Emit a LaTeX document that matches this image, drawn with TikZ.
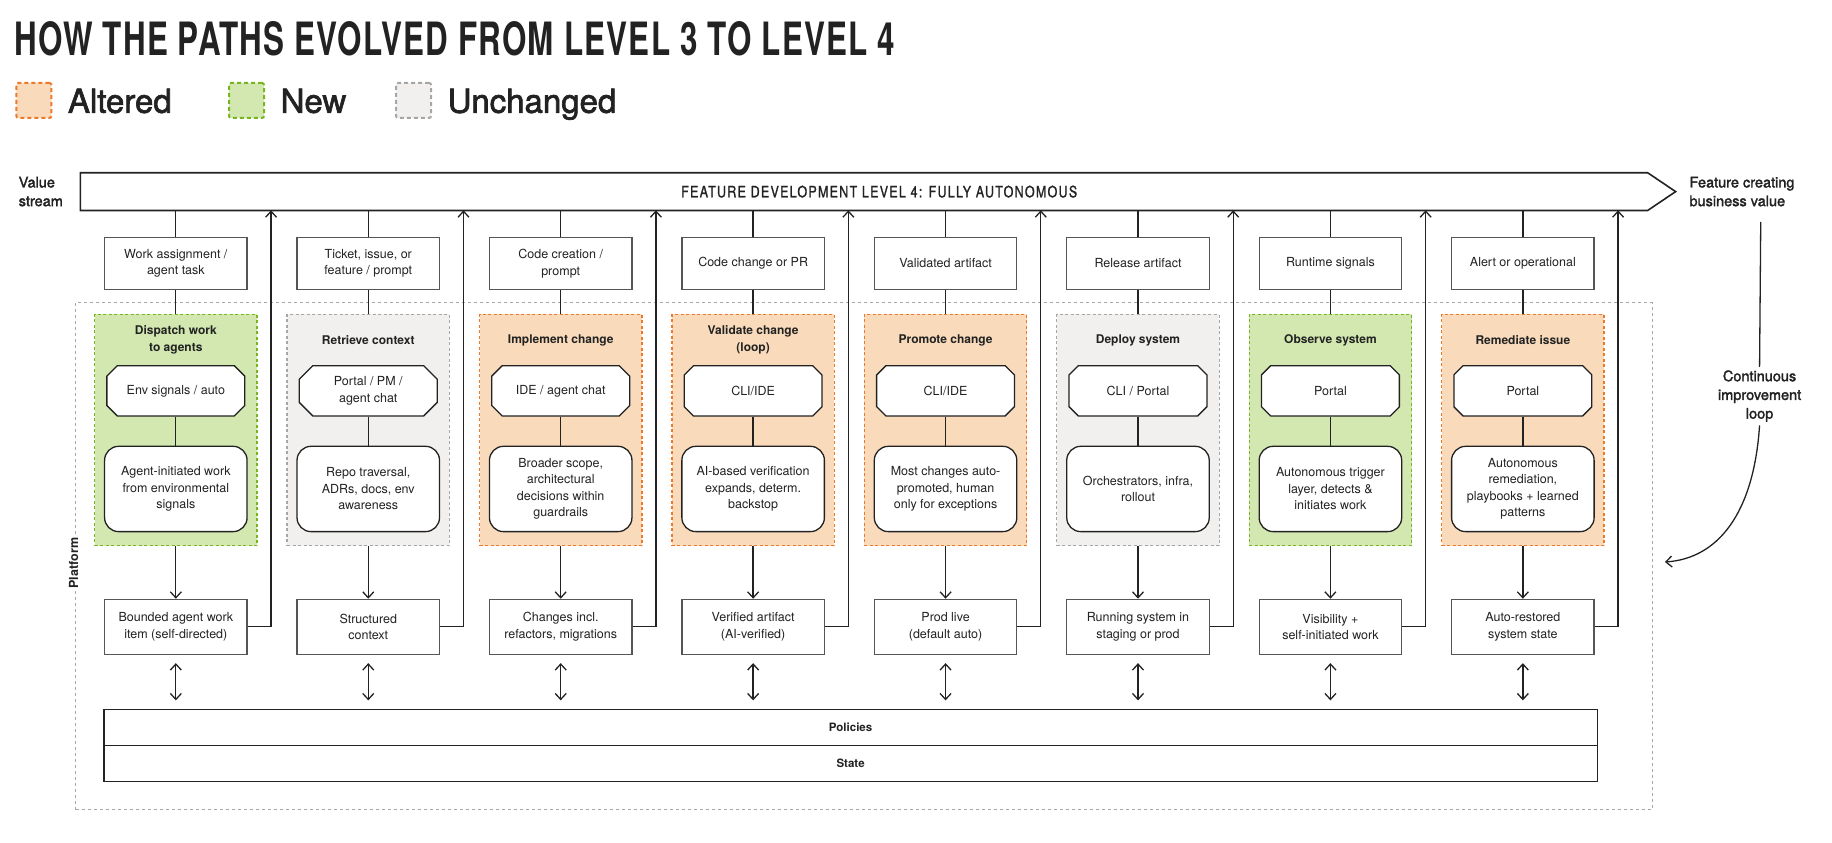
\documentclass[tikz,border=0pt]{standalone}
\usepackage{fontspec}
\setmainfont{TeX Gyre Heros}
\newfontfamily\medfont[FakeBold=2]{TeX Gyre Heros}
\newfontfamily\vsfont[FakeBold=1.5, LetterSpace=10]{TeX Gyre Heros}
\newfontfamily\titlefont[LetterSpace=4]{TeX Gyre Heros}
\usetikzlibrary{arrows.meta,shapes.misc,calc}
\definecolor{ink}{HTML}{222222}
\definecolor{boxgray}{HTML}{555555}
\definecolor{altfill}{HTML}{F9DBBB}
\definecolor{altdraw}{HTML}{EC7A2A}
\definecolor{newfill}{HTML}{D3E8B0}
\definecolor{newdraw}{HTML}{79B425}
\definecolor{samefill}{HTML}{F1F0EE}
\definecolor{samedraw}{HTML}{A6A6A6}
\definecolor{platdraw}{HTML}{A8A8A8}
\newcommand{\boxfont}{\fontsize{12.5}{16.5}\selectfont}
\newcommand{\mkcol}[8]{%
  \pgfmathsetmacro{\rx}{#2+81.5}
  \node[tbox] (tb#1) at (#2,225.5) {#4};
  \node[#3] (pn#1) at (#2,368) {};
  \node[ptitle] (pt#1) at (#2,291) {#5};
  \node[octbox] (oc#1) at (#2,334.5) {#6};
  \node[rbox] (rb#1) at (#2,418.5) {#7};
  \node[bbox] (bb#1) at (#2,536.5) {#8};
  \coordinate (rt#1) at (\rx,180);
  \draw[conn] (tb#1.north |- vs.south) -- (tb#1.north);
  \draw[conn] (tb#1.south) -- (pn#1.north);
  \draw[conn] (oc#1.south) -- (rb#1.north);
  \draw[arr] (pn#1.south) -- (bb#1.north);
  \draw[darr] ($(bb#1.south)+(0,7)$) -- ($(bb#1.south |- pol.north)+(0,-7)$);
  \draw[arr] (bb#1.east) -| (rt#1);
}
\begin{document}
\begin{tikzpicture}[x=1.1684pt,y=-1.1684pt,
  every node/.style={text=ink},
  tbox/.style={draw=boxgray, line width=1.3pt, fill=white, minimum width=142.5pt, minimum height=52.6pt, align=center, font=\boxfont, inner sep=2pt},
  bbox/.style={tbox, minimum height=54.9pt},
  panelbase/.style={minimum width=162.4pt, minimum height=231.3pt, line width=1.2pt, dash pattern=on 3pt off 2.5pt},
  altp/.style={panelbase, fill=altfill, draw=altdraw},
  newp/.style={panelbase, fill=newfill, draw=newdraw},
  samep/.style={panelbase, fill=samefill, draw=samedraw},
  ptitle/.style={font=\bfseries\fontsize{12}{16.4}\selectfont, align=center},
  octbox/.style={chamfered rectangle, chamfered rectangle xsep=10pt, draw=ink, line width=1.3pt, fill=white, minimum width=137.9pt, minimum height=50.2pt, align=center, font=\boxfont, inner sep=1pt},
  rbox/.style={rounded corners=14pt, draw=ink, line width=1.3pt, fill=white, minimum width=142.5pt, minimum height=85.3pt, align=center, font=\boxfont, inner sep=2pt},
  conn/.style={draw=ink, line width=1.3pt},
  arr/.style={conn, -{Straight Barb[length=6pt,width=11pt,line width=1.3pt]}},
  darr/.style={conn, {Straight Barb[length=6pt,width=11pt,line width=1.3pt]}-{Straight Barb[length=6pt,width=11pt,line width=1.3pt]}},
  legsq/.style={minimum width=35pt, minimum height=35pt, line width=2pt, dash pattern=on 4pt off 3pt, rounded corners=2pt},
  legtext/.style={anchor=base west, font=\medfont\fontsize{33}{33}\selectfont, inner sep=0pt},
  side/.style={font=\medfont\fontsize{14.5}{18.7}\selectfont, align=left}
]
\useasboundingbox (0,0) rectangle (1568,721);

% title
\node[anchor=north west, inner sep=0pt] (title) at (12,18) {\resizebox{881pt}{34pt}{\titlefont\bfseries HOW THE PATHS EVOLVED FROM LEVEL 3 TO LEVEL 4}};

% legend
\node[legsq, fill=altfill, draw=altdraw] (lg1) at (29,86) {};
\node[legtext] (lt1) at (58,96.5) {Altered};
\node[legsq, fill=newfill, draw=newdraw] (lg2) at (211,86) {};
\node[legtext] (lt2) at (240,96.5) {New};
\node[legsq, fill=samefill, draw=samedraw] (lg3) at (354,86) {};
\node[legtext] (lt3) at (383,96.5) {Unchanged};

% value stream
\node[side, anchor=west] (vstext) at (13,164) {Value\\stream};
\node[minimum width=1566.8pt, minimum height=37.4pt, inner sep=0pt] (vs) at (739.5,164) {};
\draw[line width=1.6pt, draw=ink, line join=miter] (vs.north west) -- (vs.north east) -- ($(vs.east)+(24,0)$) -- (vs.south east) -- (vs.south west) -- cycle;
\node (vslabel) at (752.5,164) {\resizebox{396pt}{11.7pt}{\vsfont FEATURE DEVELOPMENT LEVEL 4: FULLY AUTONOMOUS}};
\node[side, anchor=west] (fcb) at (1443,164) {Feature creating\\business value};

% platform
\node[draw=platdraw, line width=1pt, dash pattern=on 3pt off 3pt, minimum width=1576.2pt, minimum height=507.1pt] (plat) at (739.5,476) {};
\node[rotate=90, fill=white, inner sep=3pt, font=\bfseries\fontsize{12.5}{13}\selectfont] (plab) at (63,482) {Platform};

% policies / state
\node[draw=ink, line width=1.3pt, fill=white, minimum width=1493.2pt, minimum height=36.2pt, font=\bfseries\fontsize{11.5}{12}\selectfont] (pol) at (728,622.5) {Policies};
\node[draw=ink, line width=1.3pt, fill=white, minimum width=1493.2pt, minimum height=36.2pt, font=\bfseries\fontsize{11.5}{12}\selectfont] (st) at (728,653.5) {State};

% columns
\mkcol{1}{150.5}{newp}{Work assignment /\\agent task}{Dispatch work\\to agents}{Env signals / auto}{Agent-initiated work\\from environmental\\signals}{Bounded agent work\\item (self-directed)}
\mkcol{2}{315.2}{samep}{Ticket, issue, or\\feature / prompt}{Retrieve context}{Portal / PM /\\agent chat}{Repo traversal,\\ADRs, docs, env\\awareness}{Structured\\context}
\mkcol{3}{479.9}{altp}{Code creation /\\prompt}{Implement change}{IDE / agent chat}{Broader scope,\\architectural\\decisions within\\guardrails}{Changes incl.\\refactors, migrations}
\mkcol{4}{644.6}{altp}{Code change or PR}{Validate change\\(loop)}{CLI/IDE}{AI-based verification\\expands, determ.\\backstop}{Verified artifact\\(AI-verified)}
\mkcol{5}{809.3}{altp}{Validated artifact}{Promote change}{CLI/IDE}{Most changes auto-\\promoted, human\\only for exceptions}{Prod live\\(default auto)}
\mkcol{6}{974.0}{samep}{Release artifact}{Deploy system}{CLI / Portal}{Orchestrators, infra,\\rollout}{Running system in\\staging or prod}
\mkcol{7}{1138.7}{newp}{Runtime signals}{Observe system}{Portal}{Autonomous trigger\\layer, detects \&\\initiates work}{Visibility +\\self-initiated work}
\mkcol{8}{1303.4}{altp}{Alert or operational}{Remediate issue}{Portal}{Autonomous\\remediation,\\playbooks + learned\\patterns}{Auto-restored\\system state}

% continuous improvement loop
\node[font=\medfont\fontsize{14.5}{18.7}\selectfont, align=center] (cil) at (1506,339) {Continuous\\improvement\\loop};
\coordinate (lp1) at (1507,190);
\coordinate (lp2) at (1425,481);
\draw[conn] (lp1) -- (cil.north);
\draw[arr] (cil.south) .. controls (1501,440) and (1470,478) .. (lp2);
\end{tikzpicture}
\end{document}
